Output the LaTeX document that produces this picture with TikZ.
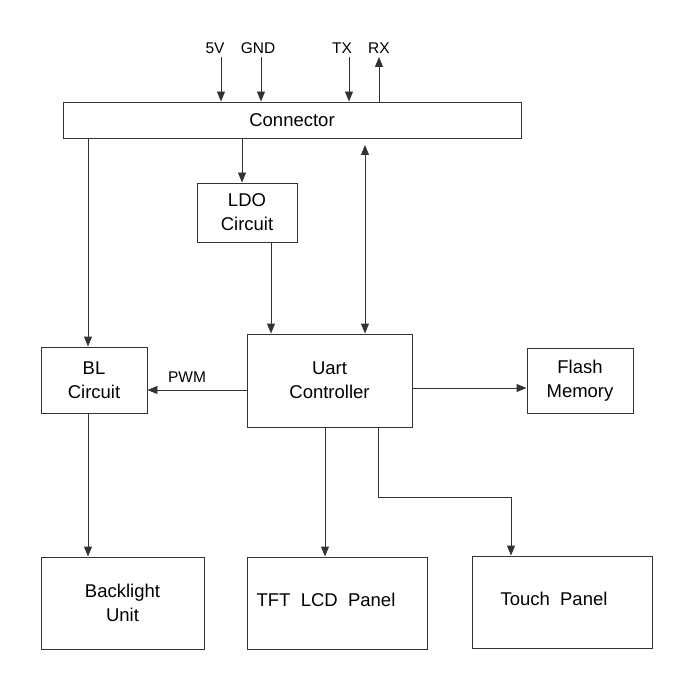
\documentclass[tikz,border=0pt]{standalone}
\usepackage{fontspec}
\setmainfont{Liberation Sans}
\usetikzlibrary{arrows.meta}
\tikzset{
  blk/.style={draw=black!80, line width=0.95pt, rectangle, inner sep=0pt, align=center,
    font=\fontsize{18.5}{24}\selectfont},
  txt/.style={inner sep=0pt, align=center, font=\fontsize{18.5}{24}\selectfont},
  lbl/.style={inner sep=0pt, font=\fontsize{15.5}{18}\selectfont},
  arr/.style={draw=black!80, line width=0.95pt, -{Triangle[length=10pt,width=8pt]}},
  darr/.style={draw=black!80, line width=0.95pt, {Triangle[length=10pt,width=8pt]}-{Triangle[length=10pt,width=8pt]}},
}
\begin{document}
\begin{tikzpicture}[x=1pt,y=-1pt]
\useasboundingbox (0,0) rectangle (700,700);
% blocks
\node[blk, minimum width=458pt, minimum height=36pt] (conn) at (292,120) {Connector};
\node[blk, minimum width=100pt, minimum height=59pt] (ldo) at (247,212.5) {LDO\\Circuit};
\node[blk, minimum width=106pt, minimum height=66pt] (bl) at (94,380) {BL\\Circuit};
\node[blk, minimum width=165pt, minimum height=93pt] (uart) at (329.5,380.5) {Uart\\Controller};
\node[blk, minimum width=106pt, minimum height=65pt] (flash) at (580,380.5) {Flash\\Memory};
\node[blk, minimum width=163pt, minimum height=92pt] (blu) at (122.5,603) {Backlight\\Unit};
\node[blk, minimum width=180pt, minimum height=92pt] (tft) at (337,603) {};
\node[txt] (tftt) at (326,600) {TFT\ \ LCD\ \ Panel};
\node[blk, minimum width=180pt, minimum height=92pt] (touch) at (562,602) {};
\node[txt] (toucht) at (554,599) {Touch\ \ Panel};
% labels
\node[lbl] (v5) at (215,48) {5V};
\node[lbl] (gnd) at (258,48) {GND};
\node[lbl] (tx) at (342,48) {TX};
\node[lbl] (rx) at (379,48) {RX};
\node[lbl] (pwm) at (187,377) {PWM};
% x positions
\coordinate (x5) at (221,57);
\coordinate (xg) at (261,57);
\coordinate (xt) at (349,57);
\coordinate (xr) at (379,57);
\coordinate (xl) at (242,0);
\coordinate (xu) at (271,0);
\coordinate (xb) at (365,145);
\coordinate (xbl) at (88,0);
\coordinate (xtf) at (325,0);
\coordinate (xtc1) at (378,497);
\coordinate (xtc2) at (511,497);
\coordinate (yp) at (0,390);
\coordinate (yf) at (0,388);
% connectors
\draw[arr] (x5) -- (conn.north -| x5);
\draw[arr] (xg) -- (conn.north -| xg);
\draw[arr] (xt) -- (conn.north -| xt);
\draw[arr] (conn.north -| xr) -- (xr);
\draw[arr] (conn.south -| xl) -- (ldo.north -| xl);
\draw[arr] (ldo.south -| xu) -- (uart.north -| xu);
\draw[darr] (xb) -- (uart.north -| xb);
\draw[arr] (conn.south -| xbl) -- (bl.north -| xbl);
\draw[arr] (uart.west |- yp) -- (bl.east |- yp);
\draw[arr] (uart.east |- yf) -- (flash.west |- yf);
\draw[arr] (uart.south -| xtf) -- (tft.north -| xtf);
\draw[arr] (uart.south -| xtc1) -- (xtc1) -- (xtc2) -- (touch.north -| xtc2);
\draw[arr] (bl.south -| xbl) -- (blu.north -| xbl);
\end{tikzpicture}
\end{document}
